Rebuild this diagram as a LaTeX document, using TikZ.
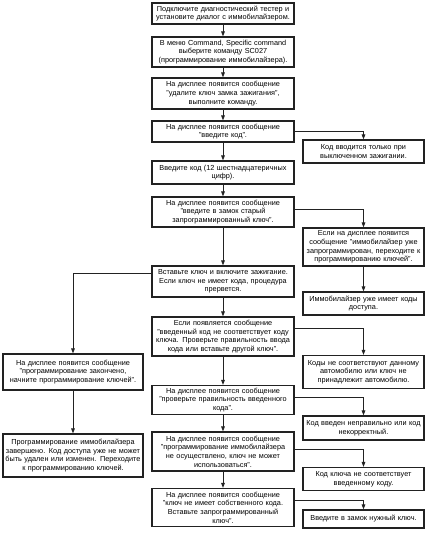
\documentclass[tikz,border=0pt]{standalone}
\usepackage{fontspec}
\setmainfont{Liberation Sans}
\usetikzlibrary{arrows.meta}
\definecolor{ink}{HTML}{222222}
\tikzset{
  box/.style={draw=ink, line width=1.1pt, fill=white, align=center, inner xsep=1.5pt, inner ysep=0pt,
    font=\fontsize{7.3}{8.7}\selectfont, text=black},
  mainbox/.style={box, text width=139pt},
  rightbox/.style={box, text width=118pt},
  leftbox/.style={box, text width=137pt},
  arr/.style={draw=ink, line width=0.9pt, -{Triangle[length=5pt,width=3.6pt]}}
}
\begin{document}
\begin{tikzpicture}[x=1pt,y=-1pt]
\useasboundingbox (0,0) rectangle (434,550);
% main column (x 152..294)
\node[mainbox, minimum height=21] (b1) at (223,13.5) {Подключите диагностический тестер и\\ установите диалог с иммобилайзером.};
\node[mainbox, minimum height=30] (b2) at (223,52) {В меню Command, Specific command\\ выберите команду SC027\\ (программирование иммобилайзера).};
\node[mainbox, minimum height=31] (b3) at (223,93.5) {На дисплее появится сообщение\\ "удалите ключ замка зажигания",\\ выполните команду.};
\node[mainbox, minimum height=21] (b4) at (223,131.5) {На дисплее появится сообщение\\ "введите код".};
\node[mainbox, minimum height=23] (b5) at (223,172.5) {Введите код (12 шестнадцатеричных\\ цифр).};
\node[mainbox, minimum height=30] (b6) at (223,212) {На дисплее появится сообщение\\ "введите в замок старый\\ запрограммированный ключ".};
\node[mainbox, minimum height=31] (b7) at (223,281.5) {Вставьте ключ и включите зажигание.\\ Если ключ не имеет кода, процедура\\ прервется.};
\node[mainbox, minimum height=39] (b8) at (223,336.5) {Если появляется сообщение\\ "введенный код не соответствует коду\\ ключа. Проверьте правильность ввода\\ кода или вставьте другой ключ".};
\node[mainbox, minimum height=29] (b9) at (223,400) {На дисплее появится сообщение\\ "проверьте правильность введенного\\ кода".};
\node[mainbox, minimum height=39] (b10) at (223,451.5) {На дисплее появится сообщение\\ "программирование иммобилайзера\\ не осуществлено, ключ не может\\ использоваться".};
\node[mainbox, minimum height=38] (b11) at (223,507.5) {На дисплее появится сообщение\\ "ключ не имеет собственного кода.\\ Вставьте запрограммированный\\ ключ".};
% right column (x 303..424)
\node[rightbox, minimum height=23] (r1) at (363.5,151.5) {Код вводится только при\\ выключенном зажигании.};
\node[rightbox, minimum height=38] (r2) at (363.5,247) {Если на дисплее появится\\ сообщение "иммобилайзер уже\\ запрограммирован, переходите к\\ программированию ключей".};
\node[rightbox, minimum height=23] (r3) at (363.5,303.5) {Иммобилайзер уже имеет коды\\ доступа.};
\node[rightbox, minimum height=33] (r4) at (363.5,372) {Коды не соответствуют данному\\ автомобилю или ключ не\\ принадлежит автомобилю.};
\node[rightbox, minimum height=24] (r5) at (363.5,428) {Код введен неправильно или код\\ некорректный.};
\node[rightbox, minimum height=23] (r6) at (363.5,479) {Код ключа не соответствует\\ введенному коду.};
\node[rightbox, minimum height=18] (r7) at (363.5,519) {Введите в замок нужный ключ.};
% left column (x 3..143)
\node[leftbox, minimum height=36] (l1) at (73,372) {На дисплее появится сообщение\\ "программирование закончено,\\ начните программирование ключей".};
\node[leftbox, minimum height=43] (l2) at (73,455.5) {Программирование иммобилайзера\\ завершено. Код доступа уже не может\\ быть удален или изменен. Переходите\\ к программированию ключей.};
% main flow
\draw[arr] (b1) -- (b2);
\draw[arr] (b2) -- (b3);
\draw[arr] (b3) -- (b4);
\draw[arr] (b4) -- (b5);
\draw[arr] (b5) -- (b6);
\draw[arr] (b6) -- (b7);
\draw[arr] (b7) -- (b8);
\draw[arr] (b8) -- (b9);
\draw[arr] (b9) -- (b10);
\draw[arr] (b10) -- (b11);
% branches
\draw[arr] (b4.east) -| (r1.north);
\draw[arr] ([yshift=3pt]b6.east) -| (r2.north);
\draw[arr] (r2) -- (r3);
\draw[arr] ([yshift=8.5pt]b7.west) -| (l1.north);
\draw[arr] (l1) -- (l2);
\draw[arr] ([yshift=8.5pt]b8.east) -| (r4.north);
\draw[arr] ([yshift=3pt]b9.east) -| (r5.north);
\draw[arr] ([yshift=2.5pt]b10.east) -| (r6.north);
\draw[arr] ([yshift=7.5pt]b11.east) -| (r7.north);
\end{tikzpicture}
\end{document}
